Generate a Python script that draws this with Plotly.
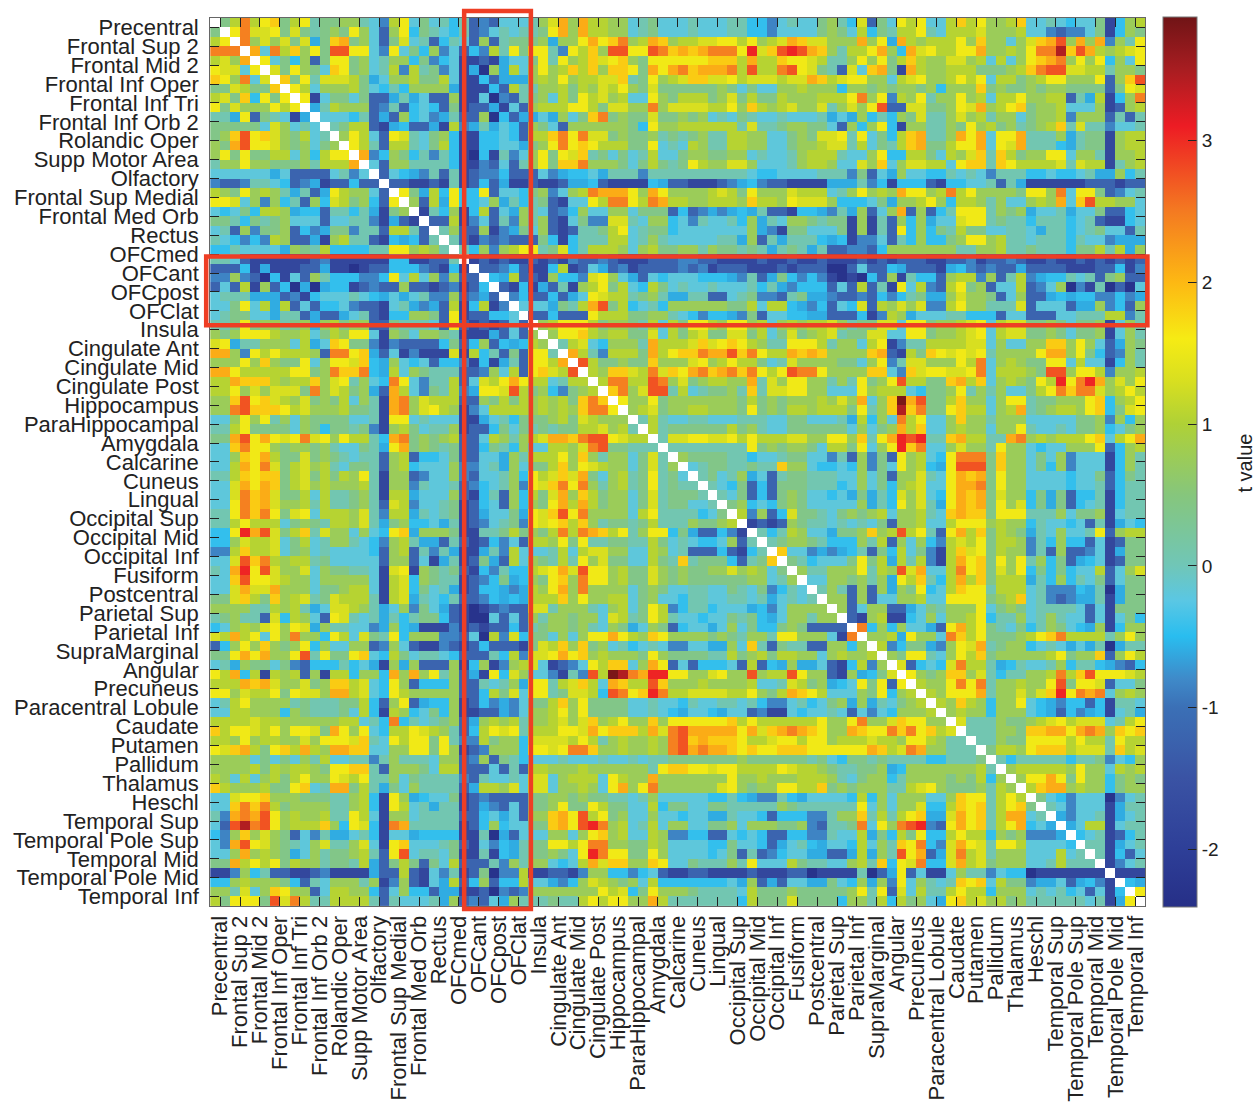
import plotly.graph_objects as go

regions = ["Precentral","Frontal Sup 2","Frontal Mid 2","Frontal Inf Oper","Frontal Inf Tri","Frontal Inf Orb 2",
 "Rolandic Oper","Supp Motor Area","Olfactory","Frontal Sup Medial","Frontal Med Orb","Rectus","OFCmed","OFCant",
 "OFCpost","OFClat","Insula","Cingulate Ant","Cingulate Mid","Cingulate Post","Hippocampus","ParaHippocampal",
 "Amygdala","Calcarine","Cuneus","Lingual","Occipital Sup","Occipital Mid","Occipital Inf","Fusiform","Postcentral",
 "Parietal Sup","Parietal Inf","SupraMarginal","Angular","Precuneus","Paracentral Lobule","Caudate","Putamen",
 "Pallidum","Thalamus","Heschl","Temporal Sup","Temporal Pole Sup","Temporal Mid","Temporal Pole Mid","Temporal Inf"]

# t value for each letter used in the matrix rows below
t_levels = dict(a=-2.3,b=-1.8,c=-1.2,d=-0.85,e=-0.6,f=-0.45,g=-0.2,h=0.05,i=0.4,j=0.75,k=1.05,l=1.3,m=1.55,
                n=1.85,o=2.1,p=2.45,q=2.75,r=3.05,s=3.45,t=3.8)

# upper triangle of the symmetric matrix: row r holds columns r+1..93, spaces at every tenth absolute column
upper_rows = [
"ikpkmnikm hiijjhgdkm gighfhcdcg gghjlojokk jjghiggghg gghhffdghg gijhflcigm kmggknkmjj kngghgfggi bfjk",
"mpllmili hijimjgcjm fihgfhcdgh ghhimojokk jjghiggghg gghhffdggg gijigkfihk kmhgkkkljj jkggdcddgi bfji",
"pjljlil einoijgcil ghcfhgcjch iiijejjmom npjkonjkkl lmmkmjklon lljjjojmeo kjkkkmjnjj gjlnoqjojo djhm",
"ogpknj miqqmmgdmg ifjdgcfdkh mimmhdmknj qqmmqpnono pppmrlnqrq onjhkkmojf olmkkmmojj kjmppsnqok jklm",
"mgifj cimmijghjj fidfgbbcbe ggimhmjknl mnjimmmmmm nnnkokknmm lkhhjmjmik nkjjlljkgk gjmnopjmjm fjgm",
"limj ignmijghkd khidgbeaje kgjmjknknj nnmiomopno oopkqkkpqm lihclgnoib okjjkkkiii jknpqqllkk hjji",
"nim hlllkiegjj kiikgbbfce eejkjmjkkl lnhimjklnn llmklllkll onklmmjjgk lmjjkmkmgk kijkmmjjjm cjnq",
"mk gjjjkigfhf jjjjebbbfc khhjjkikjl kmjiliiiii ijigiggjjk jjjfjjijij jijfjjjnij iijijjiiii ciml",
"m bgiigicceh egccjbbgad chijgkimkl jkggmjikkk ijlikiikjj jkkkmpjmdk jmhjjmjkgk kmjjkkchek bfjp",
"ehkjjjcdhc fgfcibcceb gcjkkkmmki lljjpjllll kkmjnkjklj jlhjljmqcc lliijmlojk mnijjkgggj bcjk",
"gggfhcecj fgdehccjaf ceegejginp ijiiliijij ghgihgghgg ghegejfhfj ilhhjljkhj jgijjkdjjj chch",
"hikkcbef ccebkdeheg fcjigcjjjj jjifmjjkkk kkkhlhhijj iigcjfjmfb jjhhjimjki jhijknhlhh dggh",
"jmkgcml hgijfbbffg fckknpmpll ijiijhihij hhkkjjggij illmhmgifk nohhjomogm mohhhjehii bjkk",
"mkhckk hgikfbbffg geijmpmnmk kkiimghgkj hhkkjjggij jkllhkgihk noiikmmogm lohhhfehii bjkk",
"odfji fhdhfbafbh dgjmimlnhi gighkggijj iijjghgghj kkkhggjmff kkigkjlnhn kijjmmgjjh bjjk",
"gcjj hhhhfbbdcg chjminnpjj jigikihimk jjlljggghj kkjggljngj llkkgmnnhn mkkkklhlkk bhjk",
"cgf edhchbcddf cccgdeffge hhhdhhhhhh hhhhgffggg ghhhdicgej ggffhghgdh hhffgffghe ejfh",
"cc bbcbhbcfce bbcbbceefc bbbbfeccbb bcdefdccbb bbeeehdfbf ffcbffgghc hebbbbbbcc cbcc",
"m iekfmffmcg gfijdgjkpo oomjomjjjj klkimjjjlk kkghjmjkjo mmjkpkmjjj jimmjpgmmi cdgh",
"jckemffgje hfhicbggmk ppmkpokkjj kkkjnkkjml lljfffgiej jkmjfkkjhj ggjkjognqk kjjg",
"bhfjbfkcg ejhgcdfjgg jjgiiicfcd edefehccbf fedhejcgjo cjcfhmmmhj ijegghеggi ccfg".replace("е","e"),
"cckbdgch djhjcbgidd llhgjjfgdh gghfjehgjj ihiibjbhcj fjegglmmhi hhfhhhfghc bbfg",
"hjccjbd eigjcbchhi kmghiifggg ggggjedbii gggibjbhcm fjfihkiigg hhgehhfghi ggch",
"hcbdcd cccifbfhhh kkghjhgggg ghhejchehh hfefbddgch fjffijmmjk hhghhhfhgg deee",
"hfjdj kmmhilfhkk kjgjkiijjh jiihihehih ehccddcfjj jjjjjhhjjk hhihhhfiik hkej",
"bcbc bbcbcbdccd cbbbcccddc cbbbbcbbcb bcbbbcbcbc ccbbccdbcc dcbbcbbcbc bcbc",
"ccd fcbbfkbcge cdbccccdcd bcccbbbcbc ccaacgccfe cccbefdcdc ceccccbbbc cfbd",
"fe kccbjffdlm jgecgfgggf ffedhceifd fdbabafcjb hffcjkkdjc hkdeffhghc ijcc",
"c bfbechbjkm ikgfkighgg hggghfhedf ffcgckchbm gkdckmijcg gkcdgjadbh acag",
"dfccfcegml kkhijheehh ccghiddchi eedccdcfdf hieejljjic gjccefeffd dfde",
"gggeihkoq ikfghfjjjj jjiikgkkfe dfcgflckjl jlddkmjjhh hlcgggceej dfcj",
"ccfcccmk kkiijjhgfd ffedicggff eecccfbdkj eggghhfffc ggcccgghhh kkdh",
"jkmmmki jjihkgkimm kjmmjkgjkj kkljhiillg mmijjklmgk lliijigiij bgjh",
"jmmnkj kkiilgkikl iillikgili jklhiillgg mmijjklmgk lliijigiij bgjh",
"hklgf jjjhokkkln lmnmkjhhmm mkhjjgkmbd hhkkkkllgj ggjjnnjmjg ceji",
"okhd kkkiokmnnp ooqnpmkkon onjjjjnocb kinmlmlmhj jjjmoojmif cdjh",
"qki ijiinjjjlm jkmkkighlj jjjiigjmdh lljjjmkpgj kjiimmgkgg bfjh",
"kj nnlkplnmop nopnpmkmqp pmjjjjnngd nlmmllmpgk kkjiqqjmmk djjk",
"k ppkkqpjlij kkjjohljmm jjhjhmijmq kkiinokngj kjimkrmpro jljm",
"npjlqqhkgh iijhnhllmm jjgggmjkkk gfiijmhjhj ggikmpnppl jkmk",
"mjjmijjjj jjjikijijj jkjljogjnt oqiiknjjgj mmhiijjjmn fjkm",
"jklijjkk jjjimijikk jkkkimhjns npiimnkkgj kohijkkjmn film",
"hkhgghh ggghhhggii ggghekfjgp kmggjnjjhj jjgggggiij djfj",
"khiiii iikijhggii iiiigjgijo knggjkjjgj jmhgghgiij fgij",
"hllmm llmkmkkkll jjmmjnhmor qrhhnokkhh opjkjkkkmn gkmo",
"hhhh hhhhmijijj igkkimgjmr npggjljjhm jjgfggjjjm cfjk",
"jii iihhfgghii ggdhcjdicm jkgfmpppin jjgigjdggg bfjh",
"gh iihhihhnjj gffgfjdigm jkfemqqqin jjgifjdggg bfjh",
"h ighjegchii hhhggjgicj jlhgmonoim jjggggfggi cfih",
"hgficfciii hhhfgjgifj klggmoopim jjggggfggh cfhh",
"hgicfciji ggfgeiehfl jlgfmonoil jjfieicffh bfhh",
"ijfgfiji gggggjehfm jlhemonoim jlfieicfgh bfhh",
"kdjcfli ihgijijkgj jkhgnonnim mmhhhjgiij bghh",
"bcbcji hhghghgicj jkggkmmmjk jjfhggfgch begf",
"hfhkj ggeiijnjkq kmhcmoknik jiehgjgghm cjkk",
"hijj ihfffjhkcj gjfdklkmik kjdhfjffcg bcii",
"ngg dedefhcifk gidbknlmik jjdhcjccdg beii",
"ih fgggimikek hkdbkomnim jmhjficefg bcii",
"j hhjjjmhkjq loggkpmnil jmfififggk cgjl",
"ggjjijhjem knhfkoknik kkehfjfhgi cgii",
"hjhcjcjej imfgknmmhk kkghdddfeh aeii",
"jjcjcggj jkggmmmmij knghdcdeeh beii",
"jcgjjcc egihjjjmgi jighhhhgcg biii",
"cbjkbb fgjgjjkmfh hjghjhggcg bgif",
"pfjfj ggecmokmih gifhjigfej bfjj",
"jjke mjjgpnkmii ijkmnpkkkk hjmj",
"kdf iiedjmlohi jjfghgegeh aehh",
"ji mmhgjmknij jjjjkmijjn cjmk",
"l cfgflpkkhe fhgghjfhhf edcf",
"mjijnnjlhf hhjjkpknqm mmlk",
"kjjmpmphj jkjjmqimml cggi",
"kjmmmohj jljlnrmpop gjkj",
"kjnkjfj jmgfedffcf bhhg",
"jkjjfj jjgfecfdef bghe",
"lhhhj iijklmklll ghkm",
"hhhj jinnoomopo jnmn",
"hhj iimmmmkmkk hmkk",
"ik kjmnnnklll hnkl",
"h fhhhhhfhhi dgfj",
"jkkkkkjmjj gkjk",
"jmmomimjj fiji",
"knoojkjj fijj",
"igfdggg adgh",
"hgdggg behh",
"edggh begh",
"egkk bghh",
"fgh bcfh",
"hh begh",
"h bfcg",
"bdgh",
"bbb",
"fe",
"m",
"",
]

# (t value, colour) stops of the colour bar
color_stops = [(-2.41,"#262f87"),(-2.0,"#2e3f98"),(-1.5,"#3a53a4"),(-1.0,"#3b70b6"),(-0.8,"#3f8ac9"),(-0.5,"#29bdef"),
 (-0.25,"#5ac7e4"),(0.0,"#70c6b7"),(0.5,"#86c67c"),(1.0,"#afd136"),(1.3,"#d8df20"),(1.6,"#f6eb14"),(2.0,"#fdb813"),
 (2.5,"#f47a21"),(3.1,"#ed1c24"),(3.5,"#a81d21"),(3.87,"#701416")]
t_min, t_max = -2.41, 3.87
bar_ticks = [-2,-1,0,1,2,3]

W, H = 1260, 1104
n = 94
bad = []
z = [[None]*n for _ in range(n)]
for r, s in enumerate(upper_rows):
    s = s.replace(" ", "")
    if len(s) != n-1-r:
        bad.append((r, len(s), n-1-r))
    for k, ch in enumerate(s[:n-1-r]):
        c = r+1+k
        z[r][c] = z[c][r] = t_levels[ch]

px = lambda v: v/W
py = lambda v: 1 - v/H
cells = list(range(1, n+1))
ticks = [i*2+1.5 for i in range(len(regions))]
colorscale = [[(v-t_min)/(t_max-t_min), col] for v, col in color_stops]

fig = go.Figure(go.Heatmap(
    z=z, x=cells, y=cells, zmin=t_min, zmax=t_max, colorscale=colorscale, hoverongaps=False, xgap=0, ygap=0,
    colorbar=dict(x=px(1165), xanchor="left", y=py(462), yanchor="middle", lenmode="pixels", len=890,
                  thicknessmode="pixels", thickness=34, outlinewidth=1, outlinecolor="#777", ypad=0, xpad=0,
                  tickvals=bar_ticks, ticktext=[str(v) for v in bar_ticks], ticks="inside", ticklen=9,
                  tickcolor="#222", tickfont=dict(family="Liberation Sans", size=19, color="#222"))))

axis_common = dict(ticks="inside", ticklen=9, tickwidth=1, tickcolor="#222", mirror="ticks", showline=True,
                   linecolor="#666", linewidth=1, showgrid=False, zeroline=False, tickvals=ticks, ticktext=regions,
                   tickfont=dict(family="Liberation Sans", size=22, color="#222"))
fig.update_xaxes(range=[0.5, n+0.5], domain=[px(208), px(1147)], tickangle=-90, **axis_common)
fig.update_yaxes(range=[n+0.5, 0.5], domain=[py(908), py(15)], ticklabelstandoff=6, **axis_common)

red = dict(color="#ee3e24", width=4.5)
fig.add_shape(type="rect", xref="paper", yref="paper", x0=px(204), x1=px(1149), y0=py(324), y1=py(255), line=red)
fig.add_shape(type="rect", xref="paper", yref="paper", x0=px(463), x1=px(530), y0=py(911), y1=py(8), line=red)
fig.add_annotation(text="t value", xref="paper", yref="paper", x=px(1247), y=py(463), xanchor="center", yanchor="middle",
                   showarrow=False, textangle=-90, font=dict(family="Liberation Sans", size=20, color="#222"))
fig.update_layout(width=W, height=H, margin=dict(l=0, r=0, t=0, b=0), plot_bgcolor="white", paper_bgcolor="white")

if bad:
    raise SystemExit("bad row lengths: %s" % bad)
fig.write_html("out.html", config=dict(displayModeBar=False), post_script="document.body.style.margin='0';")
